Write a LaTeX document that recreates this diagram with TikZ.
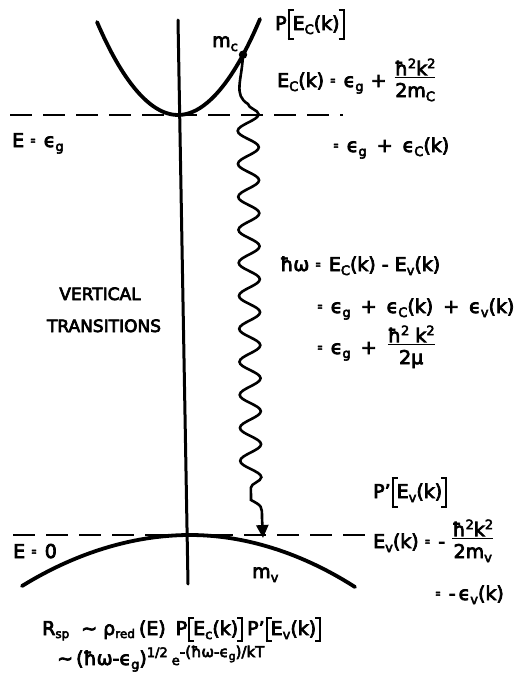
\documentclass[tikz,border=0pt]{standalone}
\usepackage{amsmath}
\usepackage{fontspec}
\usepackage{graphicx}
\newfontfamily\lett{DejaVu Sans}[FakeBold=4]
\usetikzlibrary{decorations.pathmorphing,arrows.meta}
\newcommand\sub[1]{\raisebox{-4pt}{\fontsize{13}{13}\selectfont #1}}
\newcommand\supr[1]{\raisebox{7pt}{\fontsize{13}{13}\selectfont #1}}
\newcommand\eq{\kern6pt\raisebox{2pt}{\scalebox{0.35}[0.7]{=}}\kern8pt}
\newcommand\pl{\kern10pt+\kern10pt}
\newcommand\fr[2]{\raisebox{5pt}{$\genfrac{}{}{1.6pt}{1}{\hbox{#1}}{\hbox{\vrule width 0pt height 17pt #2}}$}}
\newcommand\Lb[2]{\kern1pt\rlap{\vrule width 6pt height #1pt depth -\numexpr#1-2\relax pt}\rlap{\vrule width 6pt height -\numexpr#2-2\relax pt depth #2pt}\vrule width 2pt height #1pt depth #2pt\kern3pt}
\newcommand\Rb[2]{\kern3pt\vrule width 2pt height #1pt depth #2pt\llap{\vrule width 6pt height #1pt depth -\numexpr#1-2\relax pt}\llap{\vrule width 6pt height -\numexpr#2-2\relax pt depth #2pt}\kern1pt}
\begin{document}
\begin{tikzpicture}[x=1pt,y=-1pt,
  curve/.style={line width=3.8pt, line cap=round},
  axisline/.style={line width=3pt, line cap=round},
  levelline/.style={line width=2.4pt, dash pattern=on 22pt off 11pt},
  wave/.style={line width=2.6pt},
  lbl/.style={anchor=base west, inner sep=0pt, font=\lett\fontsize{19}{22}\selectfont},
  caps/.style={anchor=base, inner sep=0pt, font=\lett\fontsize{17}{20}\selectfont}
]
\useasboundingbox (0,0) rectangle (522,686);
% energy levels
\coordinate (ul) at (10,115); \coordinate (ur) at (343,115);
\coordinate (ll) at (13,535); \coordinate (lr) at (368,535);
\draw[levelline] (ul) -- (ur);
\draw[levelline] (ll) -- (lr);
% k axis
\coordinate (at) at (178,20); \coordinate (ab) at (188,584);
\draw[axisline] (at) -- (ab);
% bands
\draw[curve] (97,22) parabola bend (178,115) (260,19);
\draw[curve] (22,586) parabola bend (190,535) (355,587);
% transition
\coordinate (dot) at (243,54.7);
\fill (dot) circle (4.2pt);
\coordinate (w1) at (248,104);
\coordinate (w2) at (251,500);
\coordinate (w3) at (262,518);
\coordinate (tip) at (263,538);
\draw[wave,-{Triangle[width=12pt,length=13pt]}] (dot) .. controls (242,80) and (233,95) .. (w1)
  decorate[decoration={snake,amplitude=10.5pt,segment length=33pt}]{ -- (w2)}
  .. controls (262,506) .. (w3) -- (tip);
% labels
\node[lbl] (mc) at (212,47) {m\sub{c}};
\node[lbl] (mv) at (252,578) {m\sub{v}};
\node[lbl] (pc) at (275,30) {P\Lb{21}{10}E\sub{C}(k)\Rb{21}{10}};
\node[lbl] (ec) at (277,87) {E\sub{C}(k)\eq ϵ\sub{g}\kern7pt+\kern7pt\fr{ħ\supr{2}k\supr{2}}{2m\sub{C}}};
\node[lbl] (ec2) at (327,152) {\eq ϵ\sub{g}\pl ϵ\sub{C}(k)};
\node[lbl] (hw) at (280,271) {ħω\eq E\sub{C}(k) - E\sub{v}(k)};
\node[lbl] (hw2) at (311,313) {\eq ϵ\sub{g}\pl ϵ\sub{C}(k)\pl ϵ\sub{v}(k)};
\node[lbl] (hw3) at (311,354) {\eq ϵ\sub{g}\pl\fr{ħ\supr{2} k\supr{2}}{2μ}};
\node[caps] (vt) at (100,300) {VERTICAL};
\node[caps] (tr) at (104,332) {TRANSITIONS};
\node[lbl] (eg) at (12,147) {E\eq ϵ\sub{g}};
\node[lbl] (e0) at (13,558) {E\eq 0};
\node[lbl] (pv) at (373,498) {P’\Lb{21}{10}E\sub{v}(k)\Rb{21}{10}};
\node[lbl] (ev) at (373,548) {E\sub{v}(k)\eq - \fr{ħ\supr{2}k\supr{2}}{2m\sub{v}}};
\node[lbl] (ev2) at (429,600) {\eq -\kern3pt ϵ\sub{v}(k)};
\node[lbl] (rsp) at (42,635) {R\raisebox{-3pt}{\fontsize{12}{12}\selectfont sp}\kern12pt∼\kern6pt ρ\raisebox{-3pt}{\fontsize{12}{12}\selectfont red}\kern4pt(E)\kern10pt P\Lb{18}{7}E\sub{c}(k)\Rb{18}{7}\kern3pt P’\Lb{18}{7}E\sub{v}(k)\Rb{18}{7}};
\node[lbl] (ex) at (57,665) {∼\kern3pt(ħω-ϵ\sub{g})\raisebox{8pt}{\fontsize{13}{13}\selectfont 1/2}\kern4pt{\fontsize{13}{13}\selectfont e}\raisebox{8pt}{\fontsize{15}{15}\selectfont -(ħω-ϵ\raisebox{-3pt}{\fontsize{11}{11}\selectfont g})/kT}};
\end{tikzpicture}
\end{document}
